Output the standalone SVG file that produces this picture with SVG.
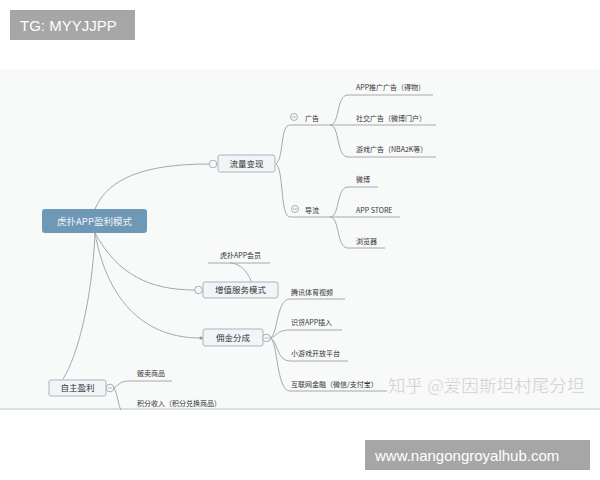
<svg xmlns="http://www.w3.org/2000/svg" width="600" height="480" viewBox="0 0 600 480">
<style>
.t{font-family:"Noto Sans CJK SC","Liberation Sans",sans-serif;fill:#333;font-size:7px}
.n{font-family:"Noto Sans CJK SC","Liberation Sans",sans-serif;fill:#333;font-size:8.5px;text-anchor:middle}
.box{fill:#f2f5f7;stroke:#a9b5be;stroke-width:1}
.c{fill:none;stroke:#a3aaaf;stroke-width:1}
.tog{fill:#f8f9f9;stroke:#9ea6ab;stroke-width:0.9}
.tag{fill:#a6a6a6}
.tagt{font-family:"Liberation Sans",Arial,sans-serif;font-size:15px;fill:#fff}
</style>
<rect x="0" y="0" width="600" height="480" fill="#fff"/>
<rect x="0" y="69" width="600" height="340" fill="#f8f9f9"/>
<line x1="0" y1="409" x2="600" y2="409" stroke="#d6e2e2" stroke-width="2"/>

<g id="connectors">
<path class="c" d="M95,209 C108,178 145,164 209,164"/>
<path class="c" d="M95,233 C118,275 150,290 195,290"/>
<path class="c" d="M95,233 C108,305 148,338 200,338"/>
<path class="c" d="M95,233 C92,300 78,355 63,379"/>
<path class="c" d="M276,164 C284,158 280,125 290,125 L330,125"/>
<path class="c" d="M276,164 C284,170 280,217 290,217 L330,217"/>
<path class="c" d="M330,125 C340,125 336,95 348,95 L433,95"/>
<path class="c" d="M330,125 L436,125"/>
<path class="c" d="M330,125 C340,125 336,157 348,157 L436,157"/>
<path class="c" d="M330,217 C340,217 336,187 348,187 L378,187"/>
<path class="c" d="M330,217 L400,217"/>
<path class="c" d="M330,217 C340,217 336,248 348,248 L385,248"/>
<path class="c" d="M252,283 C248,272 240,263 230,263"/>
<path class="c" d="M208,263 L270,263"/>
<path class="c" d="M270,338 C278,336 276,299 290,299 L345,299"/>
<path class="c" d="M270,338 C278,336 276,330 290,330 L342,330"/>
<path class="c" d="M270,338 C278,340 276,361 290,361 L348,361"/>
<path class="c" d="M270,338 C278,340 276,391 290,391 L387,391"/>
<path class="c" d="M114,388 C120,384 120,381 130,381 L172,381"/>
<path class="c" d="M114,388 C118,395 118,405 121,410"/>
</g>

<g id="root">
<rect x="42" y="209" width="105" height="24" rx="3" fill="#6f98b6"/>
<text x="94.5" y="224.5" font-family="Noto Sans CJK SC,Liberation Sans,sans-serif" font-size="9.5" fill="#f0f4f8" text-anchor="middle">虎扑APP盈利模式</text>
</g>

<g id="liuliang">
<rect class="box" x="218" y="155" width="57" height="17" rx="2"/>
<text class="n" x="246.5" y="166.8">流量变现</text>
<circle class="tog" cx="213" cy="164" r="3.8"/>
</g>

<g id="guanggao">
<circle class="tog" cx="294" cy="117" r="3.5"/>
<line x1="292" y1="117" x2="296" y2="117" stroke="#9ea6ab" stroke-width="0.8"/>
<text class="t" x="305" y="120.5">广告</text>
</g>
<g id="daoliu">
<circle class="tog" cx="295" cy="209" r="3.5"/>
<line x1="293" y1="209" x2="297" y2="209" stroke="#9ea6ab" stroke-width="0.8"/>
<text class="t" x="305" y="212.5">导流</text>
</g>

<g id="ad1"><text class="t" x="356" y="89.5">APP推广广告（得物）</text></g>
<g id="ad2"><text class="t" x="356" y="120.5">社交广告（微博门户）</text></g>
<g id="ad3"><text class="t" x="356" y="151.5">游戏广告（NBA2K等）</text></g>
<g id="dl1"><text class="t" x="356" y="181.5">微博</text></g>
<g id="dl2"><text class="t" x="356" y="212.5">APP STORE</text></g>
<g id="dl3"><text class="t" x="356" y="243.5">浏览器</text></g>

<g id="zengzhi">
<rect class="box" x="203" y="282" width="75" height="16" rx="2"/>
<text class="n" x="240.5" y="293">增值服务模式</text>
<circle class="tog" cx="198.5" cy="290" r="3.8"/>
</g>
<g id="huiyuan"><text class="t" x="220" y="257.5">虎扑APP会员</text></g>

<g id="yongjin">
<rect class="box" x="203" y="329" width="60" height="17" rx="2"/>
<text class="n" x="233" y="340.8">佣金分成</text>
<circle cx="201" cy="338" r="1.6" fill="#8d969c"/>
<circle class="tog" cx="266.5" cy="338" r="3.8"/>
<line x1="264.5" y1="338" x2="268.5" y2="338" stroke="#9ea6ab" stroke-width="0.8"/>
</g>
<g id="yj1"><text class="t" x="291" y="294.5">腾讯体育视频</text></g>
<g id="yj2"><text class="t" x="291" y="324.5">识货APP插入</text></g>
<g id="yj3"><text class="t" x="291" y="355.5">小游戏开放平台</text></g>
<g id="yj4"><text class="t" x="291" y="386.5">互联网金融（微信/支付宝）</text></g>

<g id="zizhu">
<rect class="box" x="49" y="380" width="57" height="16" rx="2"/>
<text class="n" x="77.5" y="391">自主盈利</text>
<circle class="tog" cx="110" cy="388" r="3.8"/>
<line x1="108" y1="388" x2="112" y2="388" stroke="#9ea6ab" stroke-width="0.8"/>
</g>
<g id="zz1"><text class="t" x="137" y="375.5">贩卖商品</text></g>
<g id="zz2"><text class="t" x="137" y="405.5">积分收入（积分兑换商品）</text></g>

<text x="388" y="391.5" font-family="Noto Sans CJK SC,sans-serif" font-size="17.6" fill="#bfc1c2" stroke="#ffffff" stroke-width="0.4" opacity="0.9">知乎 @爱因斯坦村尾分坦</text>

<rect class="tag" x="10" y="10" width="125" height="30"/>
<text class="tagt" x="20" y="31">TG: MYYJJPP</text>
<rect class="tag" x="365" y="440" width="225" height="30"/>
<text class="tagt" x="375" y="461">www.nangongroyalhub.com</text>
</svg>
